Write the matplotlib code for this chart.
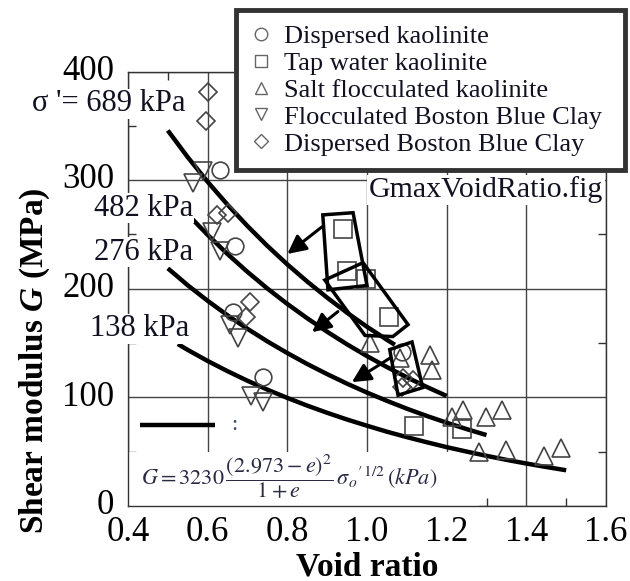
import matplotlib
matplotlib.use('Agg')
import matplotlib.pyplot as plt
import matplotlib.ticker as ticker
import matplotlib.transforms as mtransforms
from matplotlib.patches import Polygon, Rectangle
from matplotlib.lines import Line2D

plt.rcParams['font.family'] = ['Liberation Serif', 'DejaVu Serif']
plt.rcParams['mathtext.fontset'] = 'custom'
plt.rcParams['mathtext.rm'] = 'Liberation Serif:bold'
plt.rcParams['mathtext.bf'] = 'Liberation Serif:bold'
plt.rcParams['mathtext.it'] = 'Liberation Serif:italic:bold'

# fitted curves, G (MPa) read along void ratio
e_689 = [0.50, 0.55, 0.60, 0.65, 0.70, 0.75, 0.80, 0.85, 0.90, 0.95, 1.00, 1.05, 1.07]
g_689 = [345.7, 321.1, 298.4, 277.3, 257.7, 239.4, 222.4, 206.6, 191.8, 177.9, 165.0, 153.0, 148.4]
e_482 = [0.56, 0.60, 0.65, 0.70, 0.75, 0.80, 0.85, 0.90, 0.95, 1.00, 1.05, 1.10, 1.15, 1.20]
g_482 = [264.7, 249.6, 231.9, 215.5, 200.2, 186.0, 172.8, 160.4, 148.8, 138.0, 127.9, 118.5, 109.6, 101.3]
e_276 = [0.50, 0.55, 0.60, 0.65, 0.70, 0.75, 0.80, 0.85, 0.90, 0.95, 1.00, 1.05, 1.10, 1.15, 1.20, 1.25, 1.30]
g_276 = [218.8, 203.2, 188.9, 175.5, 163.1, 151.5, 140.8, 130.7, 121.4, 112.6, 104.4, 96.8, 89.6, 82.9, 76.7, 70.8, 65.3]
e_138 = [0.525, 0.55, 0.60, 0.65, 0.70, 0.75, 0.80, 0.85, 0.90, 0.95, 1.00, 1.05, 1.10, 1.15, 1.20, 1.25,
         1.30, 1.35, 1.40, 1.45, 1.50]
g_138 = [149.1, 143.7, 133.5, 124.1, 115.3, 107.1, 99.5, 92.4, 85.8, 79.6, 73.9, 68.4, 63.4, 58.7, 54.2, 50.1,
         46.2, 42.5, 39.1, 35.9, 32.9]

# measured points
e_disp_kao = [0.631, 0.668, 0.664, 0.739, 1.087]
g_disp_kao = [309, 239, 179, 119, 142]
e_tap_kao = [0.94, 0.95, 0.997, 1.055, 1.118, 1.238]
g_tap_kao = [255, 216, 209, 174, 74, 71]
e_salt_kao = [1.007, 1.158, 1.163, 1.083, 1.213, 1.241, 1.298, 1.338, 1.28, 1.35, 1.444, 1.486]
g_salt_kao = [150, 139, 125, 136, 82, 88, 82, 88, 50, 52, 46, 53]
e_floc_bbc = [0.588, 0.563, 0.61, 0.631, 0.656, 0.676, 0.71, 0.739]
g_floc_bbc = [308, 297, 252, 235, 167, 155, 101, 96]
e_disp_bbc = [0.60, 0.597, 0.623, 0.651, 0.706, 0.696, 1.09, 1.115, 1.088]
g_disp_bbc = [381, 354, 268, 270, 188, 174, 118, 116, 110]

# boxes drawn round groups of points, and arrows pointing to curves
box_1 = [(0.889, 268), (0.965, 270), (1.0, 203), (0.902, 199)]
box_2 = [(0.894, 208), (0.990, 224), (1.103, 167), (1.065, 156), (0.995, 157)]
box_3 = [(1.057, 144), (1.113, 151), (1.140, 109), (1.078, 102)]
arrows = [((0.887, 257), (0.800, 232)),
          ((0.927, 179), (0.862, 160)),
          ((1.057, 136), (0.962, 114))]

W, H = 630, 581
fig = plt.figure(figsize=(6.3, 5.81), dpi=100)
ax = fig.add_axes([128 / W, 1 - 506 / H, 478 / W, 434.5 / H])

ax.set_xlim(0.4, 1.6)
ax.set_ylim(0, 400)
ax.xaxis.set_major_locator(ticker.MultipleLocator(0.2))
ax.xaxis.set_minor_locator(ticker.MultipleLocator(0.1))
ax.yaxis.set_major_locator(ticker.MultipleLocator(100))
ax.yaxis.set_minor_locator(ticker.MultipleLocator(50))
ax.xaxis.set_major_formatter(ticker.FormatStrFormatter('%.1f'))
ax.tick_params(which='both', direction='in', top=True, right=True, color='#333333', width=1)
ax.tick_params(which='major', length=0, labelsize=25)
ax.tick_params(which='minor', length=6)
ax.tick_params(axis='x', which='major', pad=7)
ax.tick_params(axis='y', which='major', pad=10)
ax.grid(True, which='major', color='#444444', lw=1)
ax.set_axisbelow(True)
for sp in ax.spines.values():
    sp.set_color('#333333')
    sp.set_linewidth(1)
# y numbers sit a little above their gridlines
lift = mtransforms.ScaledTranslation(0, 3 / 72, fig.dpi_scale_trans)
for t in ax.yaxis.get_majorticklabels():
    t.set_transform(t.get_transform() + lift)

ax.set_xlabel('Void ratio', fontsize=24, fontweight='bold', labelpad=2)
ax.set_ylabel('Shear modulus $G$ (MPa)', fontsize=24, fontweight='bold')
ax.yaxis.set_label_coords(-0.16, 0.335)

# white patch behind the equation
ax.add_patch(Rectangle((0.4, 0), 0.88, 50, facecolor='white', edgecolor='none', zorder=1.5))

for e, g in [(e_689, g_689), (e_482, g_482), (e_276, g_276), (e_138, g_138)]:
    ax.plot(e, g, color='black', lw=3.2, solid_capstyle='butt', zorder=3, clip_on=False)

mk = dict(linestyle='none', markerfacecolor='none', markeredgecolor='#444444', markeredgewidth=1.2, zorder=4)
ax.plot(e_disp_kao, g_disp_kao, marker='o', markersize=12, **mk)
ax.plot(e_tap_kao, g_tap_kao, marker='s', markersize=13, **mk)
ax.plot(e_salt_kao, g_salt_kao, marker='^', markersize=13, **mk)
ax.plot(e_floc_bbc, g_floc_bbc, marker='v', markersize=13, **mk)
ax.plot(e_disp_bbc, g_disp_bbc, marker='D', markersize=9, **mk)

for b in [box_1, box_2, box_3]:
    ax.add_patch(Polygon(b, closed=True, fill=False, edgecolor='black', lw=2.5, zorder=5))
for start, tip in arrows:
    ax.annotate('', xy=tip, xytext=start,
                arrowprops=dict(arrowstyle='-|>', color='black', lw=2.2, mutation_scale=28,
                                shrinkA=0, shrinkB=0), zorder=6)

# equation key
ax.plot([0.43, 0.618], [74.5, 74.5], color='black', lw=3.2, solid_capstyle='butt', zorder=3)
ax.text(0.668, 74.5, ':', fontsize=16, ha='center', va='center', color='#334466')
ax.text(0.433, 27, r'$G = 3230\,\dfrac{(2.973-e)^2}{1+e}\,\sigma_o{}^{\prime\,1/2}\,(kPa)$',
        math_fontfamily='stix', fontsize=16, color='#2a2a44', ha='left', va='center', zorder=2)

ax.text(1.593, 291, 'GmaxVoidRatio.fig', fontsize=21.5, ha='right', va='center', color='#111122',
        bbox=dict(facecolor='white', edgecolor='none', pad=1), zorder=2)

# stress level labels
lab = dict(fontsize=22, ha='right', va='center', color='#111122',
           bbox=dict(facecolor='white', edgecolor='none', pad=0.5))
fig.text(186 / W, 1 - 104 / H, "σ '= 689 kPa", **lab)
fig.text(193 / W, 1 - 208 / H, '482 kPa', **lab)
fig.text(193 / W, 1 - 252 / H, '276 kPa', **lab)
fig.text(189 / W, 1 - 329 / H, '138 kPa', **lab)

lg_kw = dict(linestyle='none', markerfacecolor='none', markeredgecolor='#666666', markeredgewidth=1)
handles = [Line2D([], [], marker='o', markersize=9, **lg_kw),
           Line2D([], [], marker='s', markersize=9, **lg_kw),
           Line2D([], [], marker='^', markersize=9, **lg_kw),
           Line2D([], [], marker='v', markersize=9, **lg_kw),
           Line2D([], [], marker='D', markersize=7, **lg_kw)]
labels = ['Dispersed kaolinite', 'Tap water kaolinite', 'Salt flocculated kaolinite',
          'Flocculated Boston Blue Clay', 'Dispersed Boston Blue Clay']
leg = fig.legend(handles, labels, loc='upper left',
                 bbox_to_anchor=(236 / W, 1 - 10 / H - 0.01, 389 / W, 0.01), mode='expand',
                 fontsize=19, frameon=True, fancybox=False, handlelength=0.8, handletextpad=0.45,
                 labelspacing=0.13, borderpad=0.55, borderaxespad=0, labelcolor='#111122')
leg.get_frame().set_edgecolor('#333333')
leg.get_frame().set_linewidth(3.5)
leg.get_frame().set_alpha(1)

fig.savefig('out.png', dpi=100)
